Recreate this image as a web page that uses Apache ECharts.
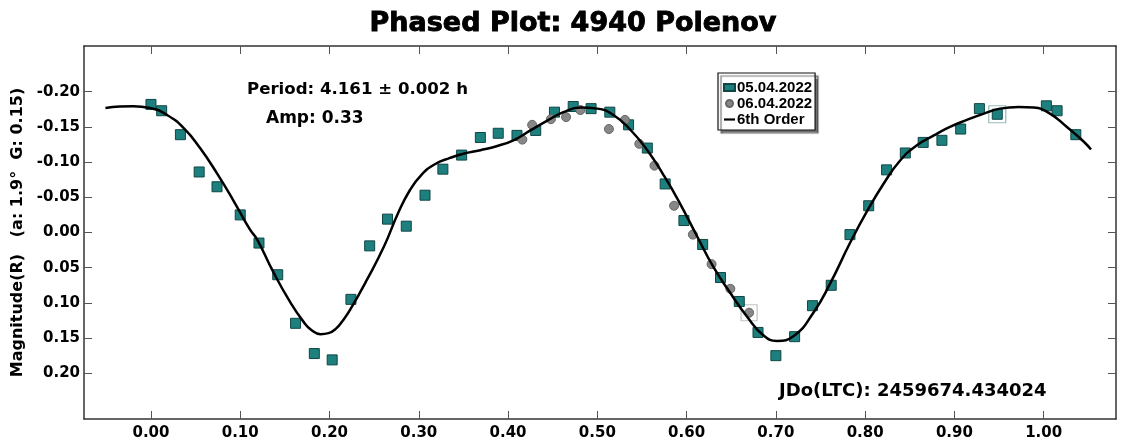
<!DOCTYPE html>
<html>
<head>
<meta charset="utf-8">
<script src="https://cdn.jsdelivr.net/npm/echarts@6/dist/echarts.min.js"></script>
<style>html,body{margin:0;padding:0;background:#fff;}#c{width:1121px;height:445px;}</style>
</head>
<body>
<div id="c"></div>
<script>
// ---- data ----
const xTicks = [0.00, 0.10, 0.20, 0.30, 0.40, 0.50, 0.60, 0.70, 0.80, 0.90, 1.00];
const yTicks = [-0.20, -0.15, -0.10, -0.05, 0.00, 0.05, 0.10, 0.15, 0.20];

// 05.04.2022 (teal squares): [phase, magnitude]
const session1 = [
  [0.000,-0.182],[0.012,-0.173],[0.033,-0.139],[0.054,-0.086],[0.074,-0.065],
  [0.100,-0.025],[0.121,0.015],[0.142,0.060],[0.162,0.129],[0.183,0.172],
  [0.203,0.181],[0.224,0.095],[0.245,0.019],[0.265,-0.019],[0.286,-0.009],
  [0.307,-0.053],[0.327,-0.090],[0.348,-0.110],[0.369,-0.135],[0.389,-0.141],
  [0.410,-0.138],[0.431,-0.145],[0.452,-0.171],[0.473,-0.179],[0.493,-0.176],
  [0.514,-0.171],[0.535,-0.153],[0.556,-0.120],[0.576,-0.069],[0.597,-0.017],
  [0.618,0.017],[0.638,0.064],[0.659,0.098],[0.680,0.142],[0.700,0.175],
  [0.721,0.148],[0.741,0.104],[0.762,0.075],[0.783,0.003],[0.804,-0.038],
  [0.824,-0.089],[0.845,-0.113],[0.865,-0.128],[0.886,-0.131],[0.907,-0.147],
  [0.928,-0.176],[0.948,-0.168],[1.003,-0.180],[1.015,-0.173],[1.036,-0.139]
];
// 06.04.2022 (grey circles)
const session2 = [
  [0.416,-0.132],[0.427,-0.153],[0.448,-0.161],[0.465,-0.164],[0.481,-0.174],
  [0.513,-0.147],[0.531,-0.160],[0.547,-0.126],[0.564,-0.095],[0.586,-0.038],
  [0.607,0.003],[0.628,0.045],[0.649,0.080],[0.670,0.114]
];
// 6th order Fourier fit
const fit = [
  [-0.051,-0.177],[-0.035,-0.179],[-0.020,-0.1795],[-0.001,-0.177],[0.018,-0.167],
  [0.037,-0.148],[0.055,-0.120],[0.074,-0.084],[0.093,-0.044],[0.111,-0.004],
  [0.119,0.010],[0.137,0.056],[0.156,0.099],[0.171,0.127],[0.180,0.139],
  [0.190,0.1445],[0.199,0.143],[0.207,0.137],[0.215,0.125],[0.223,0.110],
  [0.242,0.067],[0.261,0.020],[0.277,-0.028],[0.290,-0.060],[0.303,-0.082],
  [0.318,-0.097],[0.335,-0.106],[0.350,-0.112],[0.369,-0.117],[0.388,-0.123],
  [0.406,-0.131],[0.425,-0.145],[0.444,-0.159],[0.462,-0.171],[0.481,-0.1776],
  [0.500,-0.176],[0.518,-0.167],[0.537,-0.146],[0.556,-0.117],[0.574,-0.082],
  [0.591,-0.045],[0.612,0.006],[0.630,0.049],[0.649,0.086],[0.668,0.120],
  [0.686,0.146],[0.701,0.154],[0.720,0.147],[0.742,0.114],[0.761,0.072],
  [0.783,0.015],[0.802,-0.030],[0.821,-0.070],[0.839,-0.102],[0.858,-0.124],
  [0.877,-0.138],[0.895,-0.150],[0.914,-0.160],[0.933,-0.169],[0.951,-0.176],
  [0.972,-0.1785],[0.989,-0.1776],[1.007,-0.169],[1.026,-0.150],[1.045,-0.129],
  [1.053,-0.118]
];
const titleText = 'Phased Plot: 4940 Polenov';
const jdText = 'JDo(LTC): 2459674.434024';
const periodText = 'Period: 4.161 \u00b1 0.002 h';
const ampText = 'Amp: 0.33';
const yName = 'Magnitude(R)   (a: 1.9\u00b0  G: 0.15)';

// ---- chart ----
const FONT = 'DejaVu Sans';
const ARIAL = 'Liberation Sans';
const chart = echarts.init(document.getElementById('c'));
const lab = v => v.toFixed(2);
const frame = {show: true, onZero: false, lineStyle: {color: '#333', width: 1.5}};
const tick = vals => ({show: true, inside: true, length: 8, customValues: vals, lineStyle: {color: '#555', width: 1}});

chart.setOption({
  animation: false,
  backgroundColor: '#fff',
  grid: {left: 84, top: 46, width: 1032, height: 373},
  xAxis: [
    {type: 'value', min: -0.075, max: 1.081, position: 'bottom', axisLine: frame,
     axisTick: tick(xTicks), splitLine: {show: false},
     axisLabel: {customValues: xTicks, formatter: lab, margin: 7, color: '#000',
       fontFamily: FONT, fontWeight: 'bold', fontSize: 15}},
    {type: 'value', min: -0.075, max: 1.081, position: 'top', axisLine: frame,
     axisTick: tick(xTicks), splitLine: {show: false}, axisLabel: {show: false}}
  ],
  yAxis: [
    {type: 'value', min: -0.265, max: 0.265, inverse: true, position: 'left', axisLine: frame,
     axisTick: tick(yTicks), splitLine: {show: false},
     axisLabel: {customValues: yTicks, formatter: lab, margin: 4, color: '#000',
       fontFamily: FONT, fontWeight: 'bold', fontSize: 15},
     name: yName, nameLocation: 'middle', nameRotate: 90, nameGap: 54,
     nameTextStyle: {color: '#000', fontFamily: FONT, fontWeight: 'bold', fontSize: 16}},
    {type: 'value', min: -0.265, max: 0.265, inverse: true, position: 'right', axisLine: frame,
     axisTick: tick(yTicks), splitLine: {show: false}, axisLabel: {show: false}}
  ],
  legend: {
    orient: 'vertical', left: 718, top: 73, padding: [7, 3, 3, 5], itemGap: 1,
    itemWidth: 11, itemHeight: 7, backgroundColor: '#fff', borderColor: '#111', borderWidth: 1.2,
    shadowColor: 'rgba(0,0,0,0.55)', shadowOffsetX: 3, shadowOffsetY: 3, shadowBlur: 1,
    textStyle: {color: '#000', fontFamily: ARIAL, fontWeight: 'bold', fontSize: 15, padding: [0, 0, 0, -3]},
    data: [
      {name: '05.04.2022', icon: 'rect'},
      {name: '06.04.2022', icon: 'circle'},
      {name: '6th Order', icon: 'path://M0 0 H12 V2.4 H0 Z', itemStyle: {color: '#000'}}
    ]
  },
  graphic: [
    {type: 'text', x: 573, y: 24, style: {text: titleText, fill: '#000', stroke: '#000', lineWidth: 0.9,
      font: 'bold 27px "' + FONT + '"', align: 'center', verticalAlign: 'middle'}},
    {type: 'text', x: 247, y: 90, style: {text: periodText, fill: '#000',
      font: 'bold 16.6px "' + FONT + '"', align: 'left', verticalAlign: 'middle'}},
    {type: 'text', x: 266, y: 119, style: {text: ampText, fill: '#000',
      font: 'bold 17px "' + FONT + '"', align: 'left', verticalAlign: 'middle'}},
    {type: 'text', x: 779, y: 391, style: {text: jdText, fill: '#000',
      font: 'bold 18px "' + FONT + '"', align: 'left', verticalAlign: 'middle'}}
  ],
  series: [
    {name: '05.04.2022', type: 'scatter', data: session1, symbol: 'rect', symbolSize: 10, z: 2,
     itemStyle: {color: '#1d807e', borderColor: '#0f4645', borderWidth: 1, opacity: 1}},
    {name: '06.04.2022', type: 'scatter', data: session2, symbol: 'circle', symbolSize: 9, z: 3,
     itemStyle: {color: '#878787', borderColor: '#666', borderWidth: 1, opacity: 1}},
    {name: '6th Order', type: 'line', data: fit, smooth: 0.5, symbol: 'none', z: 4,
     lineStyle: {color: '#000', width: 2.5}, itemStyle: {color: '#000'}},
    {type: 'scatter', data: [session1[0]], symbol: 'emptyCircle', symbolSize: 16, z: 1, silent: true,
     itemStyle: {color: 'none', borderColor: '#8db3b1', borderWidth: 1.2}},
    {type: 'scatter', data: [session2[0]], symbol: 'emptyCircle', symbolSize: 17, z: 1, silent: true,
     itemStyle: {color: 'none', borderColor: '#a8a8a8', borderWidth: 1.2}},
    {type: 'scatter', data: [session2[13]], symbol: 'rect', symbolSize: 16, z: 1, silent: true,
     itemStyle: {color: 'rgba(0,0,0,0)', borderColor: '#b0b0b0', borderWidth: 1.2}},
    {type: 'scatter', data: [session1[46]], symbol: 'rect', symbolSize: 17, z: 1, silent: true,
     itemStyle: {color: 'rgba(0,0,0,0)', borderColor: '#7fa9a8', borderWidth: 1.2}}
  ]
});
</script>
</body>
</html>
